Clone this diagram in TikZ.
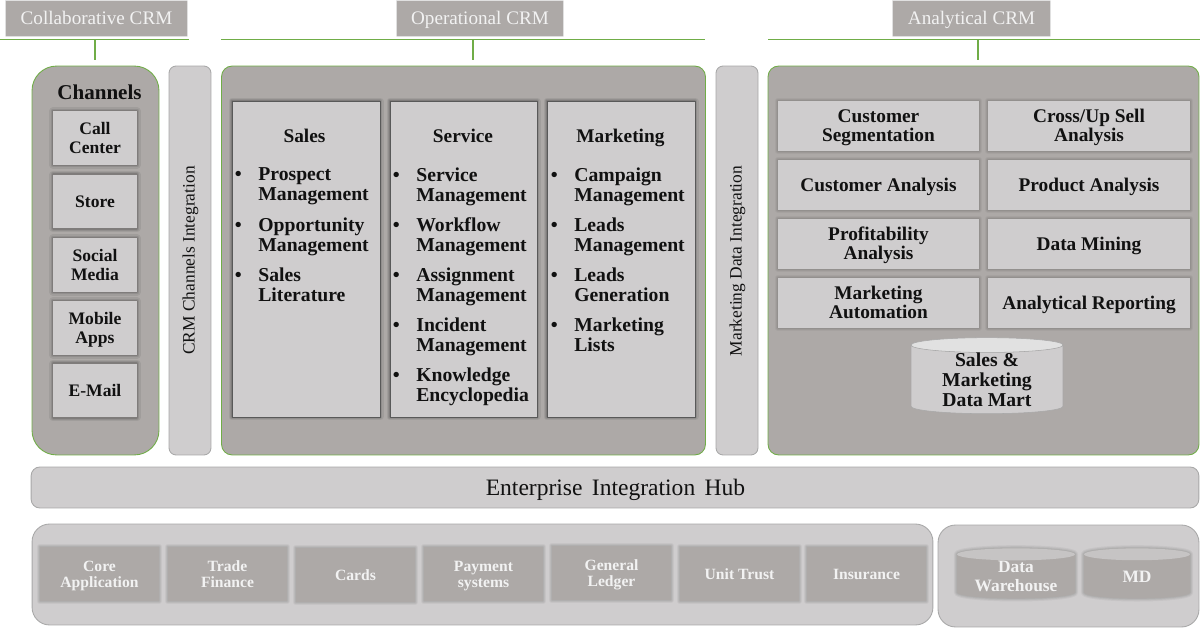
\documentclass[tikz,border=0pt]{standalone}
\usepackage{fontspec}
\setmainfont{Liberation Serif}
\usepackage{xcolor}
\usepackage{tikz}
\usetikzlibrary{shapes.geometric}
\definecolor{panelgray}{HTML}{ADA9A7}
\definecolor{softgray}{HTML}{CFCDCE}
\definecolor{edgegray}{HTML}{A8A8A8}
\definecolor{capgray}{HTML}{E1E1E1}
\definecolor{capdark}{HTML}{C6C4C4}
\definecolor{rulegreen}{HTML}{70AD47}
\definecolor{inkblack}{HTML}{111111}
\definecolor{tabtext}{HTML}{F2F2F2}
\newcommand{\fs}[2]{\fontsize{#1}{#2}\selectfont}
\newcommand{\bul}{\llap{\textbullet\hspace{9.5pt}}}
\newcommand{\twolines}[2]{\rule{0pt}{9pt}#1\\#2\rule[-2.5pt]{0pt}{2.5pt}}

\begin{document}
\begin{tikzpicture}[x=0.02cm,y=-0.02cm,
  softshadow/.style={line join=round,
    preaction={draw=black,draw opacity=0.07,line width=4pt},
    preaction={draw=black,draw opacity=0.09,line width=2.8pt},
    preaction={draw=black,draw opacity=0.12,line width=1.5pt}},
  faintshadow/.style={line join=round,
    preaction={draw=black,draw opacity=0.04,line width=3.6pt},
    preaction={draw=black,draw opacity=0.05,line width=2.4pt},
    preaction={draw=black,draw opacity=0.06,line width=1.2pt}},
  single/.style={text height=9pt,text depth=2.5pt},
  tabbox/.style={rectangle,fill=panelgray,minimum height=0.7cm,inner sep=0pt,text=tabtext,single,font=\fs{10.9}{13},line join=round,preaction={draw=black,draw opacity=0.12,line width=1pt}},
  panel/.style={rectangle,draw=rulegreen,line width=0.5pt,fill=panelgray,minimum height=7.78cm,inner sep=0pt},
  strip/.style={rectangle,rounded corners=4pt,draw=edgegray,line width=0.5pt,fill=softgray,minimum width=0.84cm,minimum height=7.78cm,inner sep=0pt},
  striplabel/.style={rotate=90,inner sep=0pt,font=\fs{9.9}{12},text=inkblack},
  chbox/.style={rectangle,fill=softgray,minimum width=1.68cm,minimum height=1.08cm,inner sep=0pt,align=center,font=\bfseries\fs{10}{10.6},text=inkblack,softshadow},
  colbox/.style={rectangle,draw=black!65,line width=0.5pt,fill=softgray,minimum height=6.32cm,inner sep=0pt,softshadow},
  coltitle/.style={inner sep=0pt,single,font=\bfseries\fs{11}{11.4},text=inkblack},
  listitem/.style={anchor=north west,inner sep=0pt,align=left,font=\bfseries\fs{11.2}{11.3},text=inkblack},
  anbox/.style={rectangle,fill=softgray,minimum height=1cm,inner sep=0pt,align=center,font=\bfseries\fs{11}{11},text=inkblack,faintshadow},
  anone/.style={single,text height=10pt},
  basepanel/.style={rectangle,rounded corners=10pt,draw=edgegray,line width=0.5pt,fill=softgray,inner sep=0pt},
  sysbox/.style={rectangle,fill=panelgray,minimum width=2.38cm,minimum height=1.08cm,inner sep=0pt,align=center,font=\bfseries\fs{8.9}{9.2},text=tabtext,faintshadow},
  martcyl/.style={cylinder,shape border rotate=90,shape aspect=0.165,cylinder uses custom fill,cylinder body fill=softgray,cylinder end fill=capgray,draw=edgegray,line width=0.3pt,inner sep=0pt,align=center,font=\bfseries\fs{11.2}{11.3},text=inkblack},
  sysbase/.style={cylinder,shape border rotate=90,fill=panelgray,inner sep=0pt,font=\bfseries\fs{9.9}{10.6},faintshadow},
  sysflat/.style={cylinder,shape border rotate=90,cylinder uses custom fill,cylinder body fill=panelgray,cylinder end fill=capdark,inner sep=0pt,align=center,font=\bfseries\fs{9.9}{10.6},text=tabtext},
  hrule/.style={draw=rulegreen,line width=0.8pt},
  vrule/.style={draw=rulegreen,line width=1pt}
]
\useasboundingbox (0,0) rectangle (1200,628);

% top tabs
\node[tabbox,minimum width=3.62cm] (tabcollab) at (96.5,18.5) {Collaborative CRM};
\node[tabbox,minimum width=3.32cm] (tabop) at (480,18.5) {Operational CRM};
\node[tabbox,minimum width=3.14cm] (tabana) at (971.5,18.5) {Analytical CRM};

% green rules
\coordinate (ruleA) at (0,39.5);
\coordinate (ruleB) at (189,39.5);
\coordinate (ruleC) at (221,39.5);
\coordinate (ruleD) at (705,39.5);
\coordinate (ruleE) at (768,39.5);
\coordinate (ruleF) at (1200,39.5);
\draw[hrule] (ruleA) -- (ruleB);
\draw[hrule] (ruleC) -- (ruleD);
\draw[hrule] (ruleE) -- (ruleF);
\coordinate (dropA) at (95,39.5);
\coordinate (dropAend) at (95,60);
\coordinate (dropB) at (473,39.5);
\coordinate (dropBend) at (473,60);
\coordinate (dropC) at (978,39.5);
\coordinate (dropCend) at (978,60);
\draw[vrule] (dropA) -- (dropAend);
\draw[vrule] (dropB) -- (dropBend);
\draw[vrule] (dropC) -- (dropCend);

% main panels
\node[panel,rounded corners=14pt,minimum width=2.54cm] (chanpanel) at (95.5,260.5) {};
\node[strip] (crmstrip) at (190,260.5) {};
\node[panel,rounded corners=6pt,minimum width=9.68cm] (oppanel) at (463.5,260.5) {};
\node[strip] (mktstrip) at (737,260.5) {};
\node[panel,rounded corners=6pt,minimum width=8.62cm] (anapanel) at (983.5,260.5) {};

% strip labels
\node[striplabel] (crmlabel) at (190.5,260.5) {CRM Channels Integration};
\node[striplabel] (mktlabel) at (737.5,261) {Marketing Data Integration};

% channels
\node[inner sep=0pt,font=\bfseries\fs{12}{13},text=inkblack] (chantitle) at (99.5,92) {Channels};
\node[chbox] (call) at (95,138) {Call\\Center};
\node[chbox,single] (store) at (95,201.5) {Store};
\node[chbox] (social) at (95,265) {Social\\Media};
\node[chbox] (mobile) at (95,328) {\twolines{Mobile}{Apps}};
\node[chbox,single] (email) at (95,390.5) {E-Mail};

% operational columns
\node[colbox,minimum width=2.96cm] (sales) at (306,259) {};
\node[colbox,minimum width=2.94cm] (service) at (463.5,259) {};
\node[colbox,minimum width=2.96cm] (marketing) at (621,259) {};
\node[coltitle] (salestitle) at (304.5,136.5) {Sales};
\node[coltitle] (servicetitle) at (463,136.5) {Service};
\node[coltitle] (marketingtitle) at (620.5,136.5) {Marketing};

\node[listitem] (s1) at (258,167.5) {\bul Prospect\\Management};
\node[listitem] (s2) at (258,217.5) {\bul Opportunity\\Management};
\node[listitem] (s3) at (258,267.5) {\bul Sales\\Literature};

\node[listitem] (v1) at (416,167.5) {\bul Service\\Management};
\node[listitem] (v2) at (416,217.5) {\bul Workflow\\Management};
\node[listitem] (v3) at (416,267.5) {\bul Assignment\\Management};
\node[listitem] (v4) at (416,317.5) {\bul Incident\\Management};
\node[listitem] (v5) at (416,367.5) {\bul Knowledge\\Encyclopedia};

\node[listitem] (m1) at (574,167.5) {\bul Campaign\\Management};
\node[listitem] (m2) at (574,217.5) {\bul Leads\\Management};
\node[listitem] (m3) at (574,267.5) {\bul Leads\\Generation};
\node[listitem] (m4) at (574,317.5) {\bul Marketing\\Lists};

% analytical
\node[anbox,minimum width=4.02cm] (segment) at (878.5,126) {\twolines{Customer}{Segmentation}};
\node[anbox,minimum width=4.04cm] (crossup) at (1089,126) {\twolines{Cross/Up Sell}{Analysis}};
\node[anbox,anone,minimum width=4.02cm] (custan) at (878.5,185) {Customer Analysis};
\node[anbox,anone,minimum width=4.04cm] (prodan) at (1089,185) {Product Analysis};
\node[anbox,minimum width=4.02cm] (profit) at (878.5,244) {\twolines{Profitability}{Analysis}};
\node[anbox,anone,minimum width=4.04cm] (mining) at (1089,244) {Data Mining};
\node[anbox,minimum width=4.02cm] (mktauto) at (878.5,303) {\twolines{Marketing}{Automation}};
\node[anbox,anone,minimum width=4.04cm] (report) at (1089,303) {Analytical Reporting};
\node[martcyl,minimum width=3.04cm,minimum height=1.36cm] (mart) at (987,379.5) {Sales \&\\Marketing\\Data Mart};

% hub
\node[basepanel,rounded corners=5pt,minimum width=23.36cm,minimum height=0.82cm] (hub) at (615,487.5) {};
\node[inner sep=0pt,font=\fs{13.4}{15},text=inkblack] (hublabel) at (615.5,490) {Enterprise\hspace{2pt} Integration\hspace{2pt} Hub};

% source systems
\node[basepanel,minimum width=18.02cm,minimum height=2.02cm] (corepanel) at (482.5,574.5) {};
\node[basepanel,minimum width=5.22cm,minimum height=2.04cm] (dwpanel) at (1068.5,576) {};
\node[sysbox] (core) at (99.5,574) {\twolines{Core}{Application}};
\node[sysbox] (trade) at (227.5,574) {\twolines{Trade}{Finance}};
\node[sysbox,single] (cards) at (355.5,575) {Cards};
\node[sysbox] (payment) at (483.5,574) {\twolines{Payment}{systems}};
\node[sysbox] (ledger) at (611.5,573) {\twolines{General}{Ledger}};
\node[sysbox,single] (trust) at (739.5,574) {Unit Trust};
\node[sysbox,single] (insurance) at (866.5,574) {Insurance};
\node[sysbase,shape aspect=0.145,minimum width=2.36cm,minimum height=1cm] (dwbase) at (1016,576.5) {\phantom{Warehouse}};
\node[sysflat,shape aspect=0.145,minimum width=2.36cm,minimum height=1cm] (dw) at (1016,576.5) {Data\\Warehouse};
\node[sysbase,shape aspect=0.41,minimum width=2.12cm,minimum height=1cm] (mdbase) at (1137,576.5) {\phantom{MD}};
\node[sysflat,shape aspect=0.41,minimum width=2.12cm,minimum height=1cm] (md) at (1137,576.5) {MD};
\end{tikzpicture}
\end{document}
